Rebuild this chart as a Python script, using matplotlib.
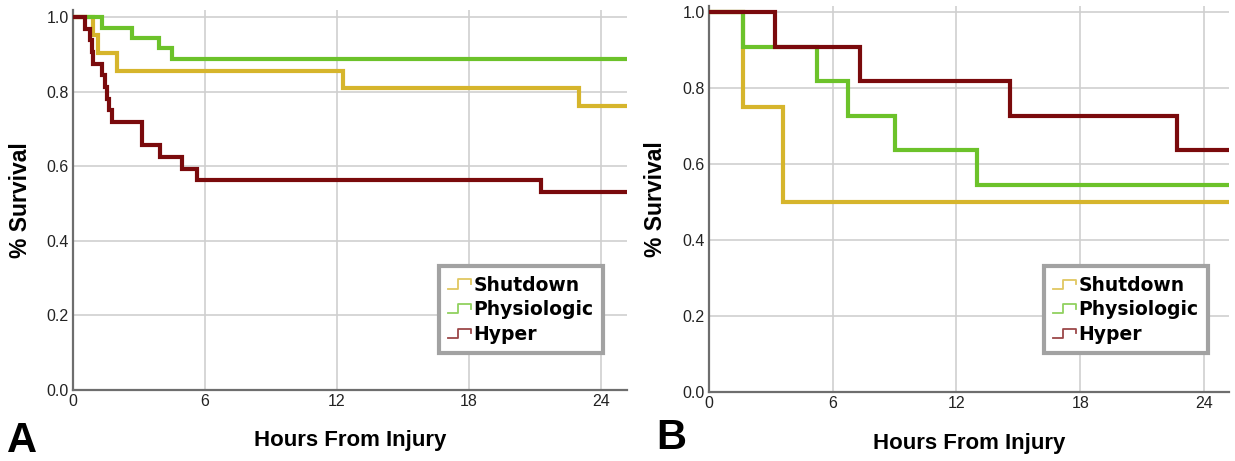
"""
Kaplan-Meier style survival curves by fibrinolysis phenotype, two panels.
"""
import matplotlib
matplotlib.use("Agg")
import matplotlib.pyplot as plt
from matplotlib import font_manager
from matplotlib.lines import Line2D
from matplotlib.legend_handler import HandlerBase

# ---- data ----
groups = ["Shutdown", "Physiologic", "Hyper"]
follow_up_end = 25.2
x_ticks = [0, 6, 12, 18, 24]
y_ticks = [0.0, 0.2, 0.4, 0.6, 0.8, 1.0]

# panel A
a_shutdown_t = [0, 0.9, 1.15, 2.0, 12.3, 23.0]
a_shutdown_s = [1.0, 0.952, 0.905, 0.857, 0.810, 0.762]
a_physio_t = [0, 1.3, 2.7, 3.9, 4.5]
a_physio_s = [1.0, 0.972, 0.944, 0.917, 0.889]
a_hyper_t = [0, 0.55, 0.77, 0.85, 0.92, 1.30, 1.45, 1.53, 1.64, 1.76, 3.12, 3.95, 4.94, 5.62, 21.3]
a_hyper_s = [1.0, 0.969, 0.938, 0.906, 0.875, 0.844, 0.813, 0.781, 0.750, 0.719,
             0.656, 0.625, 0.594, 0.563, 0.531]

# panel B
b_shutdown_t = [0, 1.65, 3.6]
b_shutdown_s = [1.0, 0.75, 0.50]
b_physio_t = [0, 1.65, 5.25, 6.75, 9.0, 13.0]
b_physio_s = [1.0, 0.909, 0.818, 0.727, 0.636, 0.545]
b_hyper_t = [0, 3.2, 7.3, 14.6, 22.7]
b_hyper_s = [1.0, 0.909, 0.818, 0.727, 0.636]

colors = {"Shutdown": "#d6b52c", "Physiologic": "#6cc22a", "Hyper": "#7a0a0c"}

installed = {f.name for f in font_manager.fontManager.ttflist}
narrow = "Liberation Sans Narrow" if "Liberation Sans Narrow" in installed else "Liberation Sans"


class StepHandler(HandlerBase):
    def create_artists(self, legend, orig_handle, xdescent, ydescent, width, height, fontsize, trans):
        x0 = -xdescent
        y0 = -ydescent
        xs = [x0, x0 + 0.45 * width, x0 + 0.45 * width, x0 + width, x0 + width]
        ys = [y0 + 0.15 * height, y0 + 0.15 * height, y0 + 0.85 * height, y0 + 0.85 * height, y0 + 0.5 * height]
        ln = Line2D(xs, ys, color=orig_handle.get_color(), lw=1.3, alpha=0.75)
        ln.set_transform(trans)
        return [ln]


def draw_panel(ax, series, ytop, legend_anchor):
    for name, (t, s) in zip(groups, series):
        ax.step(t + [follow_up_end], s + [s[-1]], where="post",
                color=colors[name], lw=3.0, solid_joinstyle="miter", label=name, zorder=3)
    ax.set_xlim(0, follow_up_end)
    ax.set_ylim(0, ytop)
    ax.set_xticks(x_ticks)
    ax.set_yticks(y_ticks)
    ax.set_yticklabels([f"{v:.1f}" for v in y_ticks])
    ax.grid(True, color="#cfcfcf", lw=1.2)
    ax.set_axisbelow(True)
    for side in ["top", "right"]:
        ax.spines[side].set_visible(False)
    for side in ["left", "bottom"]:
        ax.spines[side].set_color("#6e6e6e")
        ax.spines[side].set_linewidth(1.6)
    ax.tick_params(length=0, pad=3, labelsize=11.5, labelcolor="#222222")
    for lab in ax.get_xticklabels() + ax.get_yticklabels():
        lab.set_family(narrow)
    ax.set_xlabel("Hours From Injury", family=narrow, fontweight="bold", fontsize=16)
    ax.set_ylabel("% Survival", family=narrow, fontweight="bold", fontsize=16.5)
    handles = [Line2D([], [], color=colors[g]) for g in groups]
    leg = ax.legend(handles, groups, handler_map={Line2D: StepHandler()},
                    loc="lower right", bbox_to_anchor=legend_anchor,
                    prop={"weight": "bold", "size": 13.5}, frameon=True, fancybox=False,
                    shadow=False, edgecolor="#a2a2a2", framealpha=1.0,
                    handlelength=1.2, handletextpad=0.15, labelspacing=0.3,
                    borderpad=0.5, borderaxespad=0)
    leg.get_frame().set_linewidth(3.0)


fig = plt.figure(figsize=(12.35, 4.61), dpi=100)
ax_a = fig.add_axes([0.0591, 0.154, 0.4486, 0.824])
ax_b = fig.add_axes([0.574, 0.1497, 0.421, 0.837])

draw_panel(ax_a, [(a_shutdown_t, a_shutdown_s), (a_physio_t, a_physio_s), (a_hyper_t, a_hyper_s)],
           1.019, (0.957, 0.097))
draw_panel(ax_b, [(b_shutdown_t, b_shutdown_s), (b_physio_t, b_physio_s), (b_hyper_t, b_hyper_s)],
           1.016, (0.96, 0.10))

ax_a.xaxis.set_label_coords(0.5, -0.105)
ax_b.xaxis.set_label_coords(0.5, -0.105)
ax_a.yaxis.set_label_coords(-0.074, 0.5)
ax_b.yaxis.set_label_coords(-0.08, 0.5)

fig.text(0.006, 0.02, "A", fontsize=30, fontweight="bold", family="Liberation Sans")
fig.text(0.531, 0.025, "B", fontsize=30, fontweight="bold", family="Liberation Sans")

plt.savefig("out.png", dpi=100)
